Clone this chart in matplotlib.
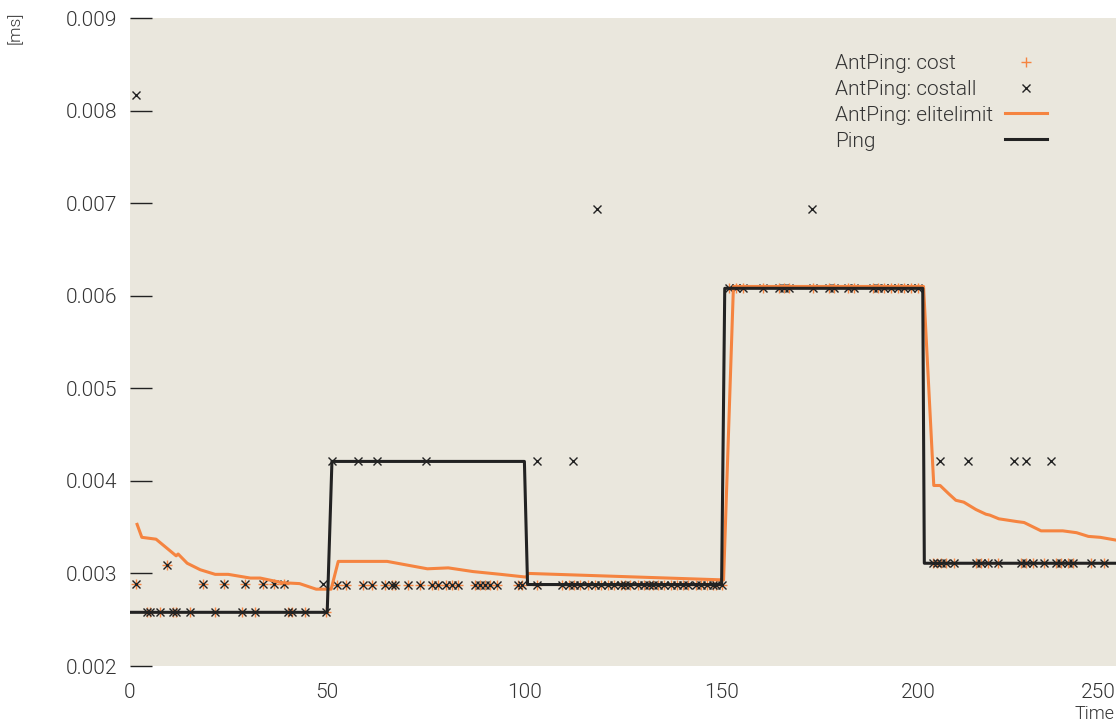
import matplotlib.pyplot as plt

# Ping: step function (time, ms)
ping_t = [0, 50, 51.2, 100, 100.8, 150, 150.8, 201, 201.4, 250]
ping_v = [0.00258, 0.00258, 0.00421, 0.00421, 0.00288, 0.00288, 0.00608, 0.00608, 0.00311, 0.00311]

# AntPing elitelimit
elite_t = [1.8, 3, 6.6, 11.7, 12.2, 14.5, 17.8, 21.6, 24.9, 30.5, 33, 38.6, 43, 47.2, 51,
           52.8, 65.2, 75.4, 80.7, 87, 94, 100.5, 101, 150.5, 153, 201.2, 203.8, 205.4,
           207.6, 209.4, 211.4, 214.5, 217, 218, 220.3, 224.9, 226.7, 231, 236.5, 240,
           243, 246, 250]
elite_v = [0.00353, 0.00339, 0.00337, 0.00319, 0.00321, 0.00311, 0.00304, 0.00299, 0.00299,
           0.00295, 0.00295, 0.00290, 0.00289, 0.00283, 0.00283, 0.00313, 0.00313, 0.00305,
           0.00306, 0.00302, 0.00299, 0.00296, 0.00300, 0.00293, 0.00610, 0.00610, 0.00395,
           0.00395, 0.00386, 0.00379, 0.00377, 0.00369, 0.00364, 0.00363, 0.00359, 0.00356,
           0.00355, 0.00346, 0.00346, 0.00344, 0.00340, 0.00339, 0.00336]

# AntPing cost samples
cost_low_t = [4.3, 5.0, 7.6, 10.8, 11.6, 15.2, 21.6, 28.4, 31.7, 40.1, 41.0, 44.4, 49.7]
cost_mid_t = [1.5, 18.6, 23.9, 29.2, 33.8, 36.5, 39.1]
cost_b_t = [52.5, 54.8, 59.2, 61.4, 64.7, 66.5, 67.3, 70.6, 73.6, 76.6, 78.2, 80.0, 81.6, 83.2,
            87.6, 88.8, 90.1, 91.4, 93.0, 98.5, 99.4, 103.3,
            109.6, 111.2, 112.7, 114.2, 116.0, 117.8, 119.3, 121.1, 122.6, 124.4, 125.6,
            126.9, 128.7, 130.2, 131.5, 132.5, 134.0, 135.5, 137.1, 138.6, 140.1, 141.6,
            143.4, 144.7, 146.2, 147.7, 148.7, 150.0]
cost_c_t = [151.8, 153.6, 155.3, 160.4, 164.5, 165.7, 167.0, 173.1, 177.2, 178.4, 182.0,
            183.5, 188.3, 189.6, 191.1, 192.9, 194.7, 196.2, 198.0, 199.7]
cost_d_t = [203.6, 204.6, 205.6, 206.9, 208.9, 214.5, 215.7, 217.5, 220.1, 225.9, 227.2,
            228.9, 231.7, 234.8, 236.0, 237.8, 239.1, 243.7, 246.9]

cost_t = cost_low_t + cost_mid_t + [9.4] + cost_b_t + cost_c_t + cost_d_t
cost_v = ([0.00258] * len(cost_low_t) + [0.00289] * len(cost_mid_t) + [0.00309]
          + [0.00288] * len(cost_b_t) + [0.00608] * len(cost_c_t) + [0.00311] * len(cost_d_t))

# extra samples only in costall
extra_t = [1.5, 49.0, 51.2, 57.8, 62.7, 75.1, 103.3, 112.4, 118.5, 172.8,
           205.3, 212.4, 224.1, 227.2, 233.5]
extra_v = [0.00817, 0.00289, 0.00421, 0.00421, 0.00421, 0.00421, 0.00421, 0.00421, 0.00694,
           0.00694, 0.00421, 0.00421, 0.00421, 0.00421, 0.00421]
costall_t = cost_t + extra_t
costall_v = cost_v + extra_v

x_ticks = [0, 50, 100, 150, 200, 250]
y_ticks = [0.002, 0.003, 0.004, 0.005, 0.006, 0.007, 0.008, 0.009]

plt.rcParams['font.family'] = ['Roboto', 'DejaVu Sans']
plt.rcParams['font.weight'] = 300

orange = '#f58440'
dark = '#222222'
txt = '#333333'

fig = plt.figure(figsize=(11.16, 7.24), dpi=100)
ax = fig.add_axes([130 / 1116, 58 / 724, 986 / 1116, 648 / 724])
ax.set_facecolor('#eae7dd')

ax.plot(cost_t, cost_v, ls='', marker='+', ms=7, mew=1, color=orange, label='AntPing: cost')
ax.plot(costall_t, costall_v, ls='', marker='x', ms=5.5, mew=1, color=dark, label='AntPing: costall')
ax.plot(elite_t, elite_v, color=orange, lw=2.2, label='AntPing: elitelimit')
ax.plot(ping_t, ping_v, color=dark, lw=2.2, label='Ping')

ax.set_xlim(0, 250)
ax.set_ylim(0.002, 0.009)
ax.set_xticks(x_ticks)
ax.set_xticklabels([str(v) for v in x_ticks])
ax.get_xticklabels()[-1].set_ha('right')
ax.set_yticks(y_ticks)
ax.set_yticklabels(['%.3f' % v for v in y_ticks])
for s in ax.spines.values():
    s.set_visible(False)
ax.tick_params(axis='y', direction='in', length=16, width=1, color=dark, labelsize=15,
               pad=9, labelcolor=txt)
ax.tick_params(axis='x', length=0, labelsize=15, pad=12, labelcolor=txt)

fig.text(15 / 1116, 1 - 28 / 724, '[ms]', rotation=90, ha='center', va='center',
         fontsize=12.5, color=txt)
fig.text(1115 / 1116, 1 - 714 / 724, 'Time', ha='right', va='center',
         fontsize=13, color=txt)

# legend: left-aligned labels, samples in a right-hand column
h, lab = ax.get_legend_handles_labels()
kw = dict(frameon=False, fontsize=15, labelspacing=0.33, borderaxespad=0, numpoints=1,
          borderpad=0)
leg1 = ax.legend(h, lab, loc='upper left', bbox_to_anchor=(705 / 986, 1 - 36 / 648),
                 handlelength=0, handletextpad=0, labelcolor=txt, **kw)
for hh in leg1.legend_handles:
    hh.set_visible(False)
ax.add_artist(leg1)
leg2 = ax.legend(h, [''] * len(h), loc='upper right', bbox_to_anchor=(917 / 986, 1 - 36 / 648),
                 markerfirst=False, handlelength=2.0, handletextpad=0, **kw)

plt.savefig('out.png')
